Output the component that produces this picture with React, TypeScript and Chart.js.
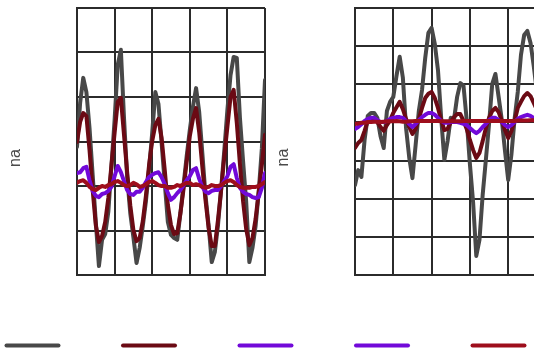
import { useEffect, useRef } from 'react';
import { Chart, registerables } from 'chart.js';

Chart.register(...registerables);

// sample index along each panel's x axis (0..60, grid every 12)
const SAMPLES = Array.from({ length: 61 }, (_, i) => i);
const X_MAX = 60;
const X_STEP = 12;
const LEFT_Y_MAX = 6;
const RIGHT_Y_MAX = 7;
const Y_TITLE = 'na';

const LEFT_GRAY = [
  2.88, 3.87, 4.43, 4.11, 3.3, 2.25, 1.19, 0.2, 0.79, 0.92,
  1.42, 2.45, 3.48, 4.72, 5.06, 3.53, 2.22, 1.39, 0.85, 0.27,
  0.61, 1.1, 1.66, 2.38, 3.19, 4.11, 3.84, 2.97, 2.07, 1.19,
  0.9, 0.83, 0.79, 1.39, 2.02, 2.67, 3.26, 3.78, 4.2, 3.66,
  2.74, 1.8, 1.12, 0.29, 0.52, 1.12, 1.93, 2.79, 3.71, 4.49,
  4.9, 4.88, 3.53, 2.56, 1.64, 0.29, 0.61, 1.1, 1.87, 2.85,
  4.38,
];
const LEFT_DARKRED = [
  2.99, 3.44, 3.64, 3.57, 2.81, 1.91, 1.12, 0.74, 0.88, 1.19,
  1.73, 2.47, 3.19, 3.89, 3.98, 3.15, 2.31, 1.57, 1.01, 0.76,
  0.83, 1.21, 1.78, 2.47, 3.01, 3.37, 3.51, 3.08, 2.36, 1.57,
  1.12, 0.92, 0.94, 1.39, 1.93, 2.54, 3.12, 3.51, 3.75, 3.21,
  2.43, 1.69, 1.06, 0.65, 0.65, 1.24, 1.91, 2.65, 3.33, 4.0,
  4.16, 3.42, 2.49, 1.66, 1.03, 0.67, 0.83, 1.26, 1.87, 2.47,
  3.15,
];
const LEFT_PURPLE = [
  2.29, 2.31, 2.4, 2.43, 2.13, 1.89, 1.78, 1.75, 1.82, 1.84,
  1.89, 1.98, 2.22, 2.45, 2.31, 2.11, 1.91, 1.82, 1.8, 1.87,
  1.87, 1.96, 2.09, 2.2, 2.25, 2.29, 2.31, 2.2, 2.04, 1.84,
  1.69, 1.75, 1.84, 1.91, 2.02, 2.13, 2.22, 2.36, 2.4, 2.16,
  1.98, 1.87, 1.84, 1.89, 1.91, 1.91, 2.0, 2.11, 2.22, 2.43,
  2.49, 2.18, 1.96, 1.87, 1.82, 1.8, 1.75, 1.73, 1.75, 1.96,
  2.29,
];
const LEFT_RED = [
  2.07, 2.11, 2.13, 2.07, 1.98, 1.93, 1.91, 1.96, 2.0, 1.98,
  2.02, 2.04, 2.09, 2.11, 2.07, 2.02, 2.0, 2.02, 2.07, 2.04,
  1.98, 2.0, 2.04, 2.09, 2.11, 2.07, 2.02, 2.0, 2.0, 1.96,
  1.96, 1.98, 2.02, 2.0, 2.04, 2.07, 2.07, 2.02, 2.04, 2.02,
  1.98, 1.96, 1.98, 2.02, 2.0, 2.0, 2.02, 2.07, 2.11, 2.13,
  2.09, 2.02, 1.98, 1.96, 1.96, 1.96, 1.98, 1.98, 2.0, 2.04,
  2.09,
];

const RIGHT_GRAY = [
  2.36, 2.75, 2.57, 3.54, 4.17, 4.25, 4.25, 4.12, 3.64, 3.33,
  4.3, 4.54, 4.67, 5.22, 5.72, 5.17, 3.85, 3.07, 2.54, 3.41,
  4.3, 4.85, 5.69, 6.35, 6.48, 6.06, 5.37, 4.12, 3.02, 3.51,
  4.12, 4.06, 4.67, 5.03, 4.96, 4.06, 2.91, 1.91, 0.5, 0.92,
  2.1, 3.02, 3.96, 5.01, 5.27, 4.67, 4.06, 3.25, 2.49, 3.15,
  4.09, 4.8, 5.77, 6.29, 6.4, 6.08, 5.48, 4.8, 4.25, 3.8,
  3.41,
];
const RIGHT_DARKRED = [
  3.33, 3.46, 3.54, 3.78, 4.04, 4.12, 4.09, 4.01, 3.88, 3.78,
  3.93, 4.06, 4.25, 4.4, 4.54, 4.35, 4.09, 3.88, 3.7, 3.83,
  4.09, 4.38, 4.64, 4.75, 4.8, 4.64, 4.38, 4.06, 3.8, 3.83,
  4.01, 4.14, 4.22, 4.22, 4.04, 3.83, 3.54, 3.28, 3.07, 3.2,
  3.51, 3.85, 4.12, 4.3, 4.38, 4.27, 4.04, 3.8, 3.59, 3.78,
  4.04, 4.38, 4.54, 4.69, 4.77, 4.69, 4.51, 4.33, 4.2, 4.09,
  4.04,
];
const RIGHT_PURPLE = [
  3.83, 3.88, 3.95, 4.04, 4.09, 4.12, 4.12, 4.06, 4.01, 4.01,
  4.04, 4.09, 4.12, 4.14, 4.14, 4.12, 4.04, 3.96, 3.88, 3.96,
  4.06, 4.14, 4.2, 4.25, 4.25, 4.2, 4.12, 4.04, 3.99, 3.99,
  4.01, 4.01, 4.01, 3.99, 3.96, 3.93, 3.85, 3.78, 3.72, 3.78,
  3.88, 3.96, 4.06, 4.12, 4.12, 4.06, 4.01, 3.93, 3.88, 3.93,
  4.01, 4.09, 4.14, 4.17, 4.2, 4.17, 4.12, 4.09, 4.06, 4.06,
  4.06,
];
const RIGHT_RED = [
  3.96, 3.97, 3.99, 3.99, 4.01, 4.01, 4.02, 4.02, 4.01, 4.02,
  4.03, 4.03, 4.03, 4.04, 4.03, 4.02, 4.02, 4.03, 4.03, 4.04,
  4.04, 4.04, 4.04, 4.04, 4.04, 4.04, 4.04, 4.03, 4.03, 4.03,
  4.03, 4.03, 4.03, 4.03, 4.04, 4.04, 4.04, 4.04, 4.04, 4.04,
  4.04, 4.04, 4.04, 4.04, 4.04, 4.04, 4.04, 4.04, 4.04, 4.04,
  4.04, 4.05, 4.05, 4.05, 4.05, 4.06, 4.06, 4.06, 4.06, 4.06,
  4.06,
];

const SERIES_COLORS = ['#484848', '#6b0a14', '#7209d9', '#9e0e1c'];
const LEGEND_LABELS = ['', '', '', '', ''];
const LEGEND_COLORS = ['#484848', '#6b0a14', '#7209d9', '#7209d9', '#9e0e1c'];
const GRID_COLOR = '#2b2b2b';

const yTitlePlugin = {
  id: 'yTitle',
  afterDraw(chart: any, _args: any, opts: any) {
    const ctx = chart.ctx;
    ctx.save();
    ctx.translate(opts.x, opts.y);
    ctx.rotate(-Math.PI / 2);
    ctx.font = '16px "Liberation Sans", Arial, sans-serif';
    ctx.fillStyle = '#4a4a4a';
    ctx.textAlign = 'center';
    ctx.textBaseline = 'alphabetic';
    ctx.fillText(opts.text, 0, 0);
    ctx.restore();
  },
};

function makePanel(
  canvas: HTMLCanvasElement,
  series: number[][],
  yMax: number,
  padRight: number,
  titleX: number,
  titleY: number
) {
  const axisCommon = {
    grid: { color: GRID_COLOR, lineWidth: 2, drawTicks: false },
    border: { display: true, color: GRID_COLOR, width: 2 },
  };
  return new Chart(canvas, {
    type: 'line',
    data: {
      labels: SAMPLES,
      datasets: series.map((d, k) => ({
        data: d,
        borderColor: SERIES_COLORS[k],
        backgroundColor: SERIES_COLORS[k],
        borderWidth: 4,
        pointRadius: 0,
        tension: 0,
        fill: false,
        borderJoinStyle: 'round' as const,
        borderCapStyle: 'round' as const,
        order: series.length - k,
      })),
    },
    options: {
      responsive: false,
      animation: false,
      events: [],
      layout: { padding: { left: 77, top: 8, right: padRight, bottom: 15 } },
      scales: {
        x: {
          type: 'linear',
          min: 0,
          max: X_MAX,
          ticks: { display: false, stepSize: X_STEP },
          ...axisCommon,
        },
        y: {
          type: 'linear',
          min: 0,
          max: yMax,
          ticks: { display: false, stepSize: 1 },
          ...axisCommon,
        },
      },
      plugins: {
        legend: { display: false },
        tooltip: { enabled: false },
        // @ts-ignore
        yTitle: { text: Y_TITLE, x: titleX, y: titleY },
      },
    } as any,
    plugins: [yTitlePlugin],
  });
}

export default function App() {
  const leftRef = useRef<HTMLCanvasElement>(null);
  const rightRef = useRef<HTMLCanvasElement>(null);
  const legendRef = useRef<HTMLCanvasElement>(null);

  useEffect(() => {
    const charts: Chart[] = [];
    if (leftRef.current) {
      charts.push(
        makePanel(leftRef.current, [LEFT_GRAY, LEFT_DARKRED, LEFT_PURPLE, LEFT_RED], LEFT_Y_MAX, 12, 20, 158)
      );
    }
    if (rightRef.current) {
      charts.push(
        makePanel(rightRef.current, [RIGHT_GRAY, RIGHT_DARKRED, RIGHT_PURPLE, RIGHT_RED], RIGHT_Y_MAX, 21.5, 10, 157.5)
      );
    }
    if (legendRef.current) {
      charts.push(
        new Chart(legendRef.current, {
          type: 'line',
          data: {
            labels: [],
            datasets: LEGEND_COLORS.map((c, i) => ({ label: LEGEND_LABELS[i], data: [], borderColor: c })),
          },
          options: {
            responsive: false,
            animation: false,
            events: [],
            layout: { padding: 0 },
            scales: { x: { display: false }, y: { display: false } },
            plugins: {
              tooltip: { enabled: false },
              legend: {
                display: true,
                position: 'top',
                align: 'start',
                labels: {
                  usePointStyle: true,
                  pointStyle: 'line',
                  pointStyleWidth: 52,
                  padding: 58.5,
                  font: { size: 12 },
                  generateLabels: () =>
                    LEGEND_COLORS.map((c, i) => ({
                      text: LEGEND_LABELS[i],
                      strokeStyle: c,
                      fillStyle: c,
                      lineWidth: 4,
                      lineCap: 'round',
                      pointStyle: 'line',
                      hidden: false,
                      datasetIndex: i,
                      fontColor: '#333333',
                    })),
                },
              },
            },
          } as any,
        })
      );
    }
    return () => charts.forEach((c) => c.destroy());
  }, []);

  return (
    <div
      style={{
        position: 'fixed',
        left: 0,
        top: 0,
        width: 534,
        height: 348,
        overflow: 'hidden',
        background: '#ffffff',
      }}
    >
      <canvas ref={leftRef} width={277} height={290} style={{ position: 'absolute', left: 0, top: 0 }} />
      <canvas ref={rightRef} width={290} height={290} style={{ position: 'absolute', left: 278, top: 0 }} />
      <canvas ref={legendRef} width={700} height={160} style={{ position: 'absolute', left: -52, top: 281 }} />
    </div>
  );
}
